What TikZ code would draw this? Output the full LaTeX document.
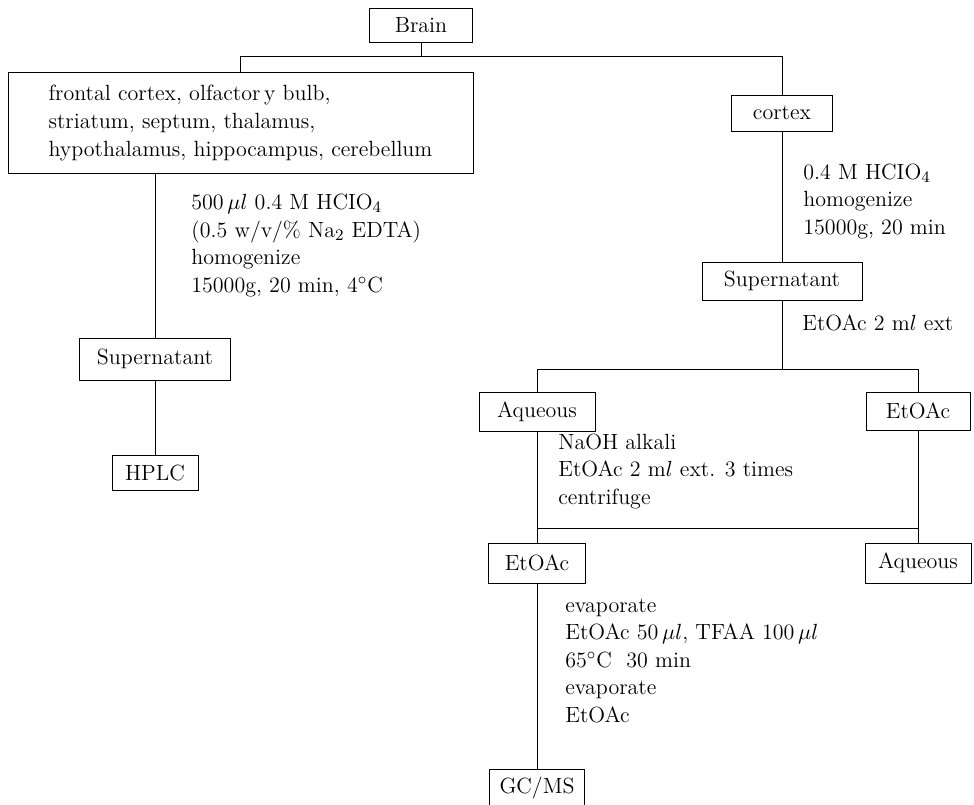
\documentclass[tikz,border=0pt]{standalone}
\usepackage{amsmath}
\usetikzlibrary{positioning}

\begin{document}
\begin{tikzpicture}[x=0.5pt,y=-0.5pt,
    every node/.style={font=\fontsize{11}{13.75}\selectfont},
    box/.style={draw,inner sep=0pt},
    note/.style={align=left,anchor=base west,inner sep=0pt}]
    \useasboundingbox (0,0) rectangle (974,804);
    % boxes
    \node[box,minimum width=51.5pt,minimum height=17pt] (brain) at (421,25) {Brain};
    \node[box,align=left,minimum width=232.5pt,minimum height=50.5pt,
          font=\fontsize{11}{14}\selectfont] (regions) at (240.5,122.5)
      {frontal cortex, olfactor\,y bulb,\\
       striatum, septum, thalamus,\\
       hypothalamus, hippocampus, cerebellum};
    \node[box,minimum width=50.5pt,minimum height=18pt] (cortex) at (782,113) {cortex};
    \node[box,minimum width=75.5pt,minimum height=21pt] (superL) at (155,359) {Supernatant};
    \node[box,minimum width=43pt,minimum height=17.5pt] (hplc) at (155,472.5) {HPLC};
    \node[box,minimum width=80pt,minimum height=19pt] (superR) at (782,281) {Supernatant};
    \node[box,minimum width=58pt,minimum height=19.5pt] (aqueousA) at (537,411.5) {Aqueous};
    \node[box,minimum width=52pt,minimum height=19pt] (etoacA) at (918,411) {EtOAc};
    \node[box,minimum width=48.5pt,minimum height=20pt] (etoacB) at (537,563) {EtOAc};
    \node[box,minimum width=53pt,minimum height=20pt] (aqueousB) at (918,563) {Aqueous};
    % box runs off the bottom edge
    \node[box,anchor=north,minimum width=47.5pt,text height=12pt,
          text depth=12pt] (gcms) at (537,769) {GC/MS};
    % conditions (base = last line)
    \node[note] (noteA) at (191,292)
      {500\,$\mu l$ 0.4 M HCIO$_4$\\
       (0.5 w/v/\% Na$_2$ EDTA)\\
       homogenize\\
       15000g, 20 min, 4$^\circ$C};
    \node[note] (noteB) at (803,234)
      {0.4 M HCIO$_4$\\
       homogenize\\
       15000g, 20 min};
    \node[note] (noteC) at (802,330) {EtOAc 2 m$l$ ext};
    \node[note] (noteD) at (558,504)
      {NaOH alkali\\
       EtOAc 2 m$l$ ext. 3 times\\
       centrifuge};
    \node[note] (noteE) at (565,722)
      {evaporate\\
       EtOAc 50\,$\mu l$, TFAA 100\,$\mu l$\\
       65$^\circ$C\ \ 30 min\\
       evaporate\\
       EtOAc};
    % lines
    \draw (brain.south) -- ++(0,14) coordinate (fork);
    \draw (fork) -| (regions.north);
    \draw (fork) -| (cortex.north);
    \draw (regions.south -| superL.north) -- (superL.north);
    \draw (superL) -- (hplc);
    \draw (cortex) -- (superR);
    \draw (superR.south) -- ++(0,69) coordinate (split);
    \draw (split) -| (aqueousA.north);
    \draw (split) -| (etoacA.north);
    \draw (aqueousA) -- (etoacB);
    \draw (etoacA) -- (aqueousB);
    \path (aqueousA.south) ++(0,97) coordinate (mixL);
    \draw (mixL) -- (mixL -| etoacA.south);
    \draw (etoacB) -- (gcms);
\end{tikzpicture}
\end{document}
